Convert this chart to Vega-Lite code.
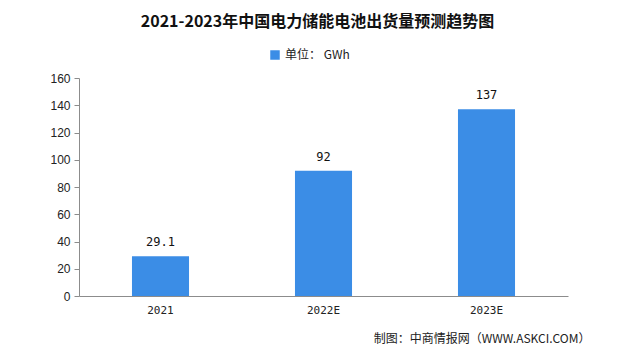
{
  "$schema": "https://vega.github.io/schema/vega-lite/v6.json",
  "autosize": {"type": "none"},
  "padding": {"left": 79, "top": 78, "right": 72, "bottom": 62},
  "width": 489,
  "height": 218,
  "background": "white",
  "title": {
    "text": "2021-2023年中国电力储能电池出货量预测趋势图",
    "font": "Noto Sans CJK SC",
    "fontSize": 16,
    "fontWeight": "bold",
    "color": "#111111",
    "anchor": "middle",
    "dx": -6,
    "offset": 19
  },
  "data": {
    "values": [
      {"year": "2021", "value": 29.1, "label": "29.1", "unit": "单位： GWh"},
      {"year": "2022E", "value": 92, "label": "92", "unit": "单位： GWh"},
      {"year": "2023E", "value": 137, "label": "137", "unit": "单位： GWh"}
    ]
  },
  "encoding": {
    "x": {
      "field": "year",
      "type": "nominal",
      "sort": null,
      "scale": {"paddingInner": 0, "paddingOuter": 0},
      "axis": {
        "title": "制图：中商情报网（WWW.ASKCI.COM）",
        "titleFont": "Noto Sans CJK SC",
        "titleFontSize": 12,
        "titleFontWeight": "normal",
        "titleColor": "#222222",
        "titleAnchor": "end",
        "titleAlign": "right",
        "titleX": 511,
        "titleY": 42,
        "titleBaseline": "middle",
        "labelAngle": 0,
        "labelFont": "DejaVu Sans Mono",
        "labelFontSize": 11,
        "labelColor": "#222222",
        "labelPadding": 8,
        "domainColor": "#8c8c8c",
        "tickColor": "#8c8c8c",
        "ticks": false,
        "grid": false
      }
    },
    "y": {
      "field": "value",
      "type": "quantitative",
      "scale": {"domain": [0, 160]},
      "axis": {
        "title": null,
        "values": [0, 20, 40, 60, 80, 100, 120, 140, 160],
        "labelFont": "Liberation Sans",
        "labelFontSize": 12,
        "labelColor": "#222222",
        "labelPadding": 4,
        "domainColor": "#8c8c8c",
        "tickColor": "#8c8c8c",
        "tickSize": 5,
        "grid": false
      }
    }
  },
  "layer": [
    {
      "mark": {"type": "bar", "width": {"band": 0.35}},
      "encoding": {
        "color": {
          "field": "unit",
          "type": "nominal",
          "scale": {"range": ["#3B8DE6"]},
          "legend": {
            "title": null,
            "orient": "none",
            "legendX": 190,
            "legendY": -29,
            "symbolType": "square",
            "symbolSize": 90,
            "labelFont": "Noto Sans CJK SC",
            "labelFontSize": 12,
            "labelColor": "#222222"
          }
        }
      }
    },
    {
      "mark": {"type": "text", "baseline": "bottom", "dy": -7, "font": "DejaVu Sans Mono", "fontSize": 12, "color": "#111111"},
      "encoding": {"text": {"field": "label"}}
    }
  ],
  "config": {"view": {"stroke": null}}
}
